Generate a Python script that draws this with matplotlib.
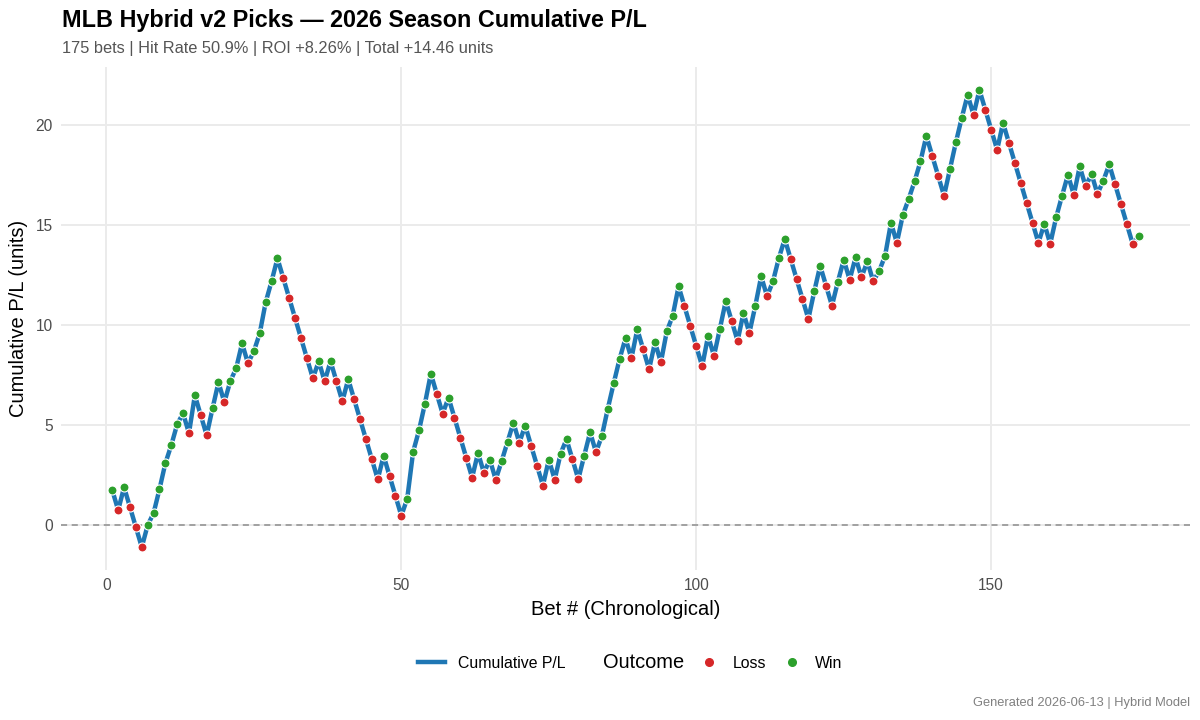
import numpy as np
import matplotlib
matplotlib.use('Agg')
import matplotlib.pyplot as plt
from matplotlib.lines import Line2D

plt.rcParams['font.family'] = ['Liberation Sans', 'DejaVu Sans']

# Cumulative P/L after each bet
cum_pl = [
    1.75, 0.75, 1.9, 0.9, -0.1, -1.1, 0.0, 0.6, 1.8, 3.1,
    4.0, 5.05, 5.6, 4.6, 6.5, 5.5, 4.5, 5.85, 7.15, 6.15,
    7.2, 7.85, 9.1, 8.1, 8.7, 9.6, 11.15, 12.2, 13.35, 12.35,
    11.35, 10.35, 9.35, 8.35, 7.35, 8.2, 7.2, 8.2, 7.2, 6.2,
    7.3, 6.3, 5.3, 4.3, 3.3, 2.3, 3.47, 2.47, 1.47, 0.47,
    1.33, 3.67, 4.75, 6.08, 7.58, 6.58, 5.58, 6.38, 5.38, 4.38,
    3.38, 2.38, 3.62, 2.62, 3.28, 2.28, 3.2, 4.17, 5.13, 4.13,
    4.98, 3.98, 2.98, 1.98, 3.28, 2.28, 3.58, 4.3, 3.3, 2.3,
    3.48, 4.65, 3.65, 4.47, 5.83, 7.1, 8.32, 9.35, 8.35, 9.8,
    8.8, 7.8, 9.15, 8.15, 9.7, 10.47, 11.95, 10.95, 9.95, 8.95,
    7.95, 9.47, 8.47, 9.83, 11.22, 10.22, 9.22, 10.62, 9.62, 10.97,
    12.45, 11.45, 12.2, 13.37, 14.32, 13.32, 12.32, 11.32, 10.32, 11.7,
    12.98, 11.98, 10.98, 12.18, 13.28, 12.28, 13.4, 12.4, 13.2, 12.2,
    12.72, 13.47, 15.13, 14.13, 15.5, 16.32, 17.2, 18.2, 19.48, 18.48,
    17.48, 16.48, 17.82, 19.15, 20.38, 21.53, 20.53, 21.78, 20.78, 19.78,
    18.78, 20.13, 19.13, 18.13, 17.13, 16.13, 15.13, 14.13, 15.08, 14.08,
    15.4, 16.48, 17.53, 16.53, 17.95, 16.95, 17.58, 16.58, 17.23, 18.05,
    17.05, 16.05, 15.05, 14.05, 14.46,
]

# Outcome of each bet: W = win, L = loss
outcomes = list(
    "WLWLLLWWWW" "WWWLWLLWWL" "WWWLWWWWWL" "LLLLLWLWLL"
    "WLLLLLWLLL" "WWWWWLLWLL" "LLWLWLWWWL" "WLLLWLWWLL"
    "WWLWWWWWLW" "LLWLWWWLLL" "LWLWWLLWLW" "WLWWWLLLLW"
    "WLLWWLWLWL" "WWWLWWWWWL" "LLWWWWLWLL" "LWLLLLLLWL"
    "WWWLWLWLWW" "LLLLW"
)

bets = np.arange(1, len(cum_pl) + 1)
cum_pl = np.array(cum_pl)
is_win = np.array([o == "W" for o in outcomes])

n_bets = len(bets)
hit_rate = is_win.mean() * 100
total = cum_pl[-1]
roi = total / n_bets * 100

line_col = '#1f77b4'
loss_col = '#d62728'
win_col = '#2ca02c'

fig = plt.figure(figsize=(12, 7.2), dpi=100)
ax = fig.add_axes([0.0508, 0.2083, 0.9409, 0.6986])

ax.axhline(0, color='#8c8c8c', linestyle=(0, (4, 3)), linewidth=1.1, zorder=1)
ax.plot(bets, cum_pl, color=line_col, linewidth=3.2,
        solid_joinstyle='round', solid_capstyle='round', zorder=2)
ax.scatter(bets[~is_win], cum_pl[~is_win], s=42, color=loss_col,
           edgecolors='white', linewidths=0.8, zorder=3)
ax.scatter(bets[is_win], cum_pl[is_win], s=42, color=win_col,
           edgecolors='white', linewidths=0.8, zorder=3)

# ggplot-like 5% expansion
xr = bets.max() - bets.min()
ax.set_xlim(bets.min() - 0.05 * xr, bets.max() + 0.05 * xr)
yr = cum_pl.max() - cum_pl.min()
ax.set_ylim(cum_pl.min() - 0.05 * yr, cum_pl.max() + 0.05 * yr)

ax.set_xticks([0, 50, 100, 150])
ax.set_yticks([0, 5, 10, 15, 20])
ax.grid(True, color='#ebebeb', linewidth=1.4)
ax.set_axisbelow(True)
for s in ax.spines.values():
    s.set_visible(False)
ax.tick_params(length=0, labelsize=11.2, labelcolor='#4d4d4d', pad=6)

ax.set_xlabel('Bet # (Chronological)', fontsize=14.5, color='black', labelpad=5)
ax.set_ylabel('Cumulative P/L (units)', fontsize=14.5, color='black', labelpad=5)

fig.text(62 / 1200, 1 - 20 / 720, 'MLB Hybrid v2 Picks \u2014 2026 Season Cumulative P/L',
         fontsize=16.8, fontweight='bold', ha='left', va='center')
fig.text(62 / 1200, 1 - 48 / 720,
         f'{n_bets} bets | Hit Rate {hit_rate:.1f}% | ROI +{roi:.2f}% | Total +{total:.2f} units',
         fontsize=11.8, color='#555555', ha='left', va='center')
fig.text(1190 / 1200, 1 - 703 / 720, 'Generated 2026-06-13 | Hybrid Model',
         fontsize=9.3, color='#808080', ha='right', va='center')

# Legend at bottom
ly = 1 - 663 / 720
h_line = Line2D([], [], color=line_col, linewidth=3.2)
leg1 = fig.legend([h_line], ['Cumulative P/L'], loc='center left',
                  bbox_to_anchor=(418 / 1200, ly), frameon=False, fontsize=11.4,
                  handlelength=1.7, handletextpad=0.8, borderpad=0, borderaxespad=0)
fig.text(603 / 1200, ly, 'Outcome', fontsize=14.4, ha='left', va='center')
h_loss = Line2D([], [], linestyle='none', marker='o', markersize=5.5, color=loss_col)
h_win = Line2D([], [], linestyle='none', marker='o', markersize=5.5, color=win_col)
leg2 = fig.legend([h_loss, h_win], ['Loss', 'Win'], loc='center left',
                  bbox_to_anchor=(698 / 1200, ly), frameon=False, fontsize=11.4, ncol=2,
                  handlelength=1.4, handletextpad=0.8, columnspacing=0.9,
                  borderpad=0, borderaxespad=0)

fig.savefig('out.png', dpi=100, facecolor='white')
